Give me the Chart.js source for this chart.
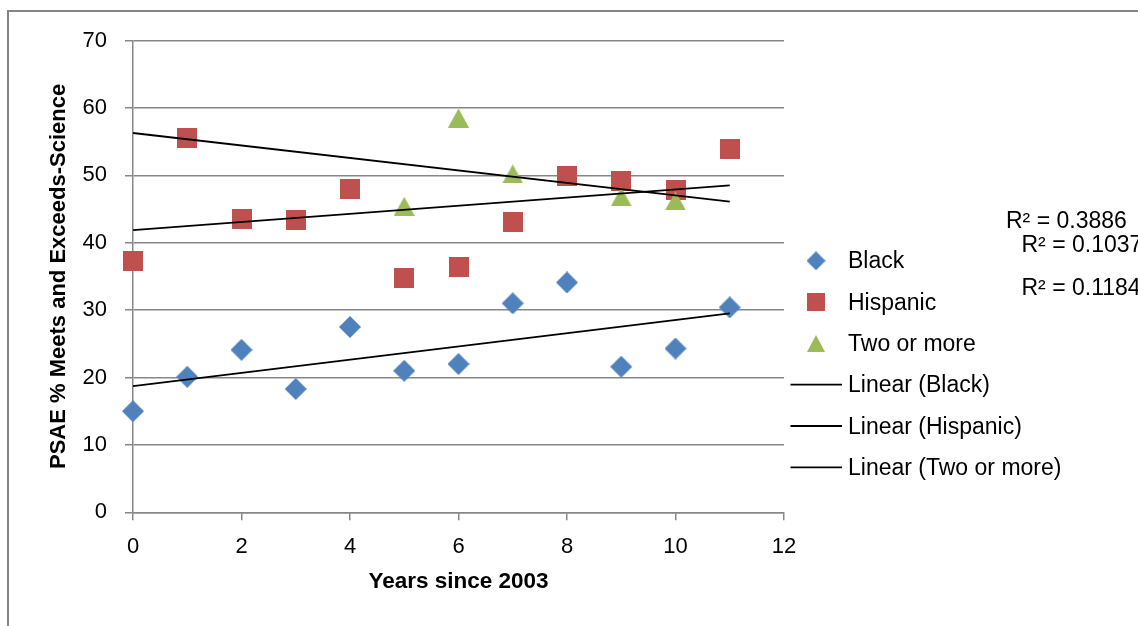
<!DOCTYPE html>
<html>
<head>
<meta charset="utf-8">
<script src="https://cdn.jsdelivr.net/npm/chart.js@4.4.1/dist/chart.umd.min.js"></script>
<style>
  html, body { margin: 0; padding: 0; background: #ffffff; overflow: hidden; }
  #wrap { width: 1138px; height: 626px; position: relative; }
</style>
</head>
<body>
<div id="wrap"><canvas id="chart" width="1138" height="626"></canvas></div>
<script>
// PSAE science results by group, years counted from 2003
const years = [0, 1, 2, 3, 4, 5, 6, 7, 8, 9, 10, 11];
const black = [15.0, 20.1, 24.1, 18.3, 27.5, 21.0, 22.0, 31.0, 34.1, 21.6, 24.3, 30.4];
const hispanic = [37.3, 55.5, 43.5, 43.3, 47.9, 34.7, 36.4, 43.0, 49.9, 49.1, 47.8, 53.9];
const twoOrMore = [null, null, null, null, null, 45.4, 58.5, 50.2, null, 46.8, 46.2, null];

const seriesNames = ['Black', 'Hispanic', 'Two or more'];
const seriesColors = ['#4F81BD', '#C0504D', '#9BBB59'];
const rSquaredLabels = ['R\u00B2 = 0.3886', 'R\u00B2 = 0.1037', 'R\u00B2 = 0.1184'];

const xTicks = [0, 2, 4, 6, 8, 10, 12];
const yTicks = [0, 10, 20, 30, 40, 50, 60, 70];
const xTitle = 'Years since 2003';
const yTitle = 'PSAE % Meets and Exceeds-Science';

const GRID = '#878787';
const FONT = "'Liberation Sans', Arial, sans-serif";

// least-squares line over the non-empty points of a series
function linearFit(xs, ys) {
  const pts = xs.map((x, i) => [x, ys[i]]).filter(p => p[1] !== null);
  const n = pts.length;
  const mx = pts.reduce((s, p) => s + p[0], 0) / n;
  const my = pts.reduce((s, p) => s + p[1], 0) / n;
  let sxy = 0, sxx = 0;
  pts.forEach(p => { sxy += (p[0] - mx) * (p[1] - my); sxx += (p[0] - mx) * (p[0] - mx); });
  const slope = sxy / sxx;
  const intercept = my - slope * mx;
  const x0 = Math.min(...xs), x1 = Math.max(...xs);
  return [{ x: x0, y: intercept + slope * x0 }, { x: x1, y: intercept + slope * x1 }];
}

function toPoints(xs, ys) {
  return xs.map((x, i) => ({ x: x, y: ys[i] })).filter(p => p.y !== null);
}

// marker glyphs drawn on small canvases so they stay centred on their value
function makeMarker(kind, color, w, h) {
  const c = document.createElement('canvas');
  c.width = w; c.height = h;
  const g = c.getContext('2d');
  g.fillStyle = color;
  g.beginPath();
  if (kind === 'diamond') {
    g.moveTo(w / 2, 0); g.lineTo(w, h / 2); g.lineTo(w / 2, h); g.lineTo(0, h / 2);
  } else if (kind === 'square') {
    g.rect(0, 0, w, h);
  } else {
    g.moveTo(w / 2, 0); g.lineTo(w, h); g.lineTo(0, h);
  }
  g.closePath();
  g.fill();
  return c;
}

const markerKinds = ['diamond', 'square', 'triangle'];
const markerSizes = [[22, 22], [20, 20], [21, 19]];
const legendSizes = [[19, 19], [18, 18], [18, 17]];
const dataMarkers = markerKinds.map((k, i) => makeMarker(k, seriesColors[i], markerSizes[i][0], markerSizes[i][1]));
const legendMarkers = markerKinds.map((k, i) => makeMarker(k, seriesColors[i], legendSizes[i][0], legendSizes[i][1]));

const seriesValues = [black, hispanic, twoOrMore];

const scatterSets = seriesValues.map((vals, i) => ({
  type: 'scatter',
  label: seriesNames[i],
  data: toPoints(years, vals),
  pointStyle: dataMarkers[i],
  pointRadius: 10,
  showLine: false,
  clip: false,
  order: 3 - i
}));

const trendSets = seriesValues.map((vals, i) => ({
  type: 'line',
  label: 'Linear (' + seriesNames[i] + ')',
  data: linearFit(years, vals),
  borderColor: '#000000',
  borderWidth: 1.8,
  pointRadius: 0,
  fill: false,
  clip: false,
  order: 0
}));

// frame, legend and R² labels
const decorations = {
  id: 'decorations',
  beforeDraw(chart) {
    const ctx = chart.ctx;
    ctx.save();
    ctx.fillStyle = '#ffffff';
    ctx.fillRect(0, 0, chart.width, chart.height);
    ctx.restore();
  },
  afterDraw(chart) {
    const ctx = chart.ctx;
    ctx.save();
    // outer frame
    ctx.strokeStyle = '#858585';
    ctx.lineWidth = 2;
    ctx.strokeRect(8, 11, 1400, 900);

    // legend
    ctx.font = '23px ' + FONT;
    ctx.fillStyle = '#000000';
    ctx.textAlign = 'left';
    ctx.textBaseline = 'alphabetic';
    const rowBase = 268.3, rowStep = 41.3, textX = 848, markX = 816;
    const entries = [];
    seriesNames.forEach((n, i) => entries.push({ text: n, marker: legendMarkers[i] }));
    seriesNames.forEach(n => entries.push({ text: 'Linear (' + n + ')', line: true }));
    entries.forEach((e, i) => {
      const base = rowBase + rowStep * i;
      const cy = base - 7.5;
      if (e.line) {
        ctx.strokeStyle = '#000000';
        ctx.lineWidth = 1.8;
        ctx.beginPath();
        ctx.moveTo(790.5, cy);
        ctx.lineTo(842, cy);
        ctx.stroke();
      } else {
        ctx.drawImage(e.marker, markX - e.marker.width / 2, cy - e.marker.height / 2);
      }
      ctx.fillText(e.text, textX, base);
    });

    // R² labels of the trend lines
    const rPos = [[1006, 228], [1021.5, 252], [1021.5, 295]];
    rSquaredLabels.forEach((t, i) => ctx.fillText(t, rPos[i][0], rPos[i][1]));
    ctx.restore();
  }
};

new Chart(document.getElementById('chart'), {
  type: 'scatter',
  data: { datasets: trendSets.concat(scatterSets) },
  options: {
    responsive: false,
    animation: false,
    devicePixelRatio: 1,
    events: [],
    layout: { padding: { left: 0, right: 354, top: 40.5, bottom: 0 } },
    plugins: { legend: { display: false }, tooltip: { enabled: false } },
    scales: {
      x: {
        type: 'linear',
        min: 0, max: 12,
        afterBuildTicks: s => { s.ticks = xTicks.map(v => ({ value: v })); },
        afterFit: s => { s.height = 113.7; },
        grid: { drawOnChartArea: false, drawTicks: true, tickLength: 8, color: GRID, lineWidth: 1.5 },
        border: { display: true, color: GRID, width: 1.5 },
        ticks: { font: { family: FONT, size: 22 }, color: '#000000', padding: 13, maxRotation: 0 },
        title: {
          display: true, text: xTitle, color: '#000000',
          font: { family: FONT, size: 22.5, weight: 'bold' },
          padding: { top: 0, bottom: 31 }
        }
      },
      y: {
        type: 'linear',
        min: 0, max: 70,
        afterBuildTicks: s => { s.ticks = yTicks.map(v => ({ value: v })); },
        afterFit: s => { s.width = 133; },
        grid: { drawOnChartArea: true, drawTicks: true, tickLength: 8, color: GRID, lineWidth: 1.5 },
        border: { display: true, color: GRID, width: 1.5 },
        ticks: { font: { family: FONT, size: 22 }, color: '#000000', padding: 18 },
        title: {
          display: true, text: yTitle, color: '#000000',
          font: { family: FONT, size: 22, weight: 'bold' },
          padding: { top: 46, bottom: 0 }
        }
      }
    }
  },
  plugins: [decorations]
});
</script>
</body>
</html>
